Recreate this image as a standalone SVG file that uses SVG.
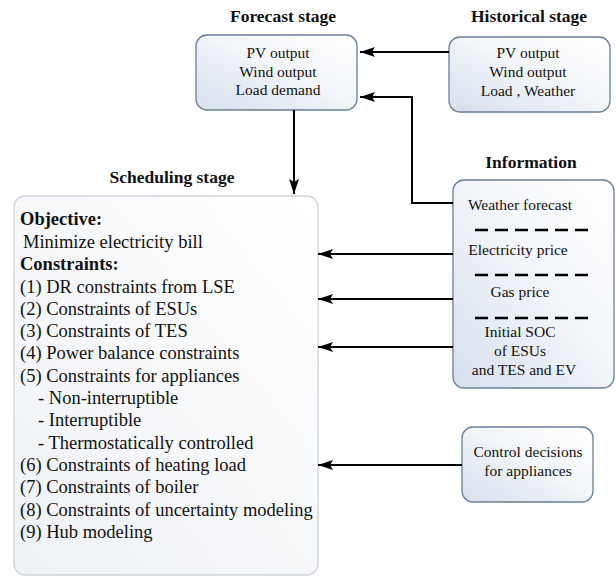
<svg xmlns="http://www.w3.org/2000/svg" width="616" height="578" viewBox="0 0 616 578">
<defs>
<linearGradient id="g" x1="0" y1="1" x2="1" y2="0">
<stop offset="0" stop-color="#d6dfeb"/>
<stop offset="0.55" stop-color="#f3f6fa"/>
<stop offset="1" stop-color="#ffffff"/>
</linearGradient>
<linearGradient id="g2" x1="0" y1="1" x2="1" y2="0">
<stop offset="0" stop-color="#eef1f5"/>
<stop offset="1" stop-color="#ffffff"/>
</linearGradient>
<marker id="ah" markerWidth="16" markerHeight="10" refX="15" refY="5" orient="auto" markerUnits="userSpaceOnUse">
<path d="M0,0 L15,5 L0,10 L3,5 Z" fill="#000"/>
</marker>
<style>
.box{fill:url(#g);stroke:#6a7f99;stroke-width:1.3}
.sbox{fill:url(#g2);stroke:#cfd4db;stroke-width:1.3}
text{fill:#111}
.t{font-size:15.5px;text-anchor:middle}
.title{font-size:17.5px;font-weight:bold;text-anchor:middle}
.s{font-size:18.5px}
.b{font-weight:bold}
.c{fill:none;stroke:#000;stroke-width:2}
.d{stroke:#000;stroke-width:2.5;stroke-dasharray:13 7}
</style>
</defs>
<rect width="616" height="578" fill="#fff"/>
<g font-family="Liberation Serif, Tinos, Times New Roman, Times, Noto Serif, DejaVu Serif, serif">
<g id="forecast">
<text class="title" x="283" y="22">Forecast stage</text>
<rect class="box" x="196" y="35" width="161" height="75" rx="11"/>
<text class="t" x="278" y="58">PV output</text>
<text class="t" x="278" y="77">Wind output</text>
<text class="t" x="278" y="95">Load demand</text>
</g>

<g id="historical">
<text class="title" x="529" y="22">Historical stage</text>
<rect class="box" x="449" y="37" width="161" height="75" rx="11"/>
<text class="t" x="528" y="58">PV output</text>
<text class="t" x="528" y="77">Wind output</text>
<text class="t" x="528" y="96">Load , Weather</text>
</g>

<g id="scheduling">
<text class="title" x="172" y="183">Scheduling stage</text>
<rect class="sbox" x="14" y="196" width="304" height="379" rx="11"/>
<text class="s b" x="20" y="225">Objective:</text>
<text class="s" x="23" y="247.5">Minimize electricity bill</text>
<text class="s b" x="20" y="270">Constraints:</text>
<text class="s" x="20" y="292.5">(1) DR constraints from LSE</text>
<text class="s" x="20" y="314.5">(2) Constraints of ESUs</text>
<text class="s" x="20" y="337">(3) Constraints of TES</text>
<text class="s" x="20" y="359">(4) Power balance constraints</text>
<text class="s" x="20" y="381.5">(5) Constraints for appliances</text>
<text class="s" x="38" y="404">- Non-interruptible</text>
<text class="s" x="38" y="426">- Interruptible</text>
<text class="s" x="38" y="448.5">- Thermostatically controlled</text>
<text class="s" x="20" y="471">(6) Constraints of heating load</text>
<text class="s" x="20" y="493">(7) Constraints of boiler</text>
<text class="s" x="20" y="515.5">(8) Constraints of uncertainty modeling</text>
<text class="s" x="20" y="538">(9) Hub modeling</text>
</g>

<g id="information">
<text class="title" x="531" y="168">Information</text>
<rect class="box" x="453" y="180" width="161" height="208" rx="11"/>
<text class="t" x="520" y="210">Weather forecast</text>
<line class="d" x1="475" y1="230" x2="588" y2="230"/>
<text class="t" x="518" y="255">Electricity price</text>
<line class="d" x1="475" y1="275" x2="588" y2="275"/>
<text class="t" x="520" y="297">Gas price</text>
<line class="d" x1="475" y1="318" x2="588" y2="318"/>
<text class="t" x="520" y="337">Initial SOC</text>
<text class="t" x="520" y="356">of ESUs</text>
<text class="t" x="524" y="375">and TES and EV</text>
</g>

<g id="control">
<rect class="box" x="462" y="427" width="131" height="75" rx="11"/>
<text class="t" x="528" y="457">Control decisions</text>
<text class="t" x="528" y="476">for appliances</text>
</g>
</g>
<g id="connectors">
<line class="c" x1="449" y1="52" x2="360" y2="52" marker-end="url(#ah)"/>
<polyline class="c" points="453,203 412,203 412,97 360,97" marker-end="url(#ah)"/>
<line class="c" x1="294" y1="110" x2="294" y2="194" marker-end="url(#ah)"/>
<line class="c" x1="453" y1="254" x2="318" y2="254" marker-end="url(#ah)"/>
<line class="c" x1="453" y1="299" x2="318" y2="299" marker-end="url(#ah)"/>
<line class="c" x1="453" y1="347" x2="318" y2="347" marker-end="url(#ah)"/>
<line class="c" x1="462" y1="465" x2="318" y2="465" marker-end="url(#ah)"/>
</g>
</svg>
